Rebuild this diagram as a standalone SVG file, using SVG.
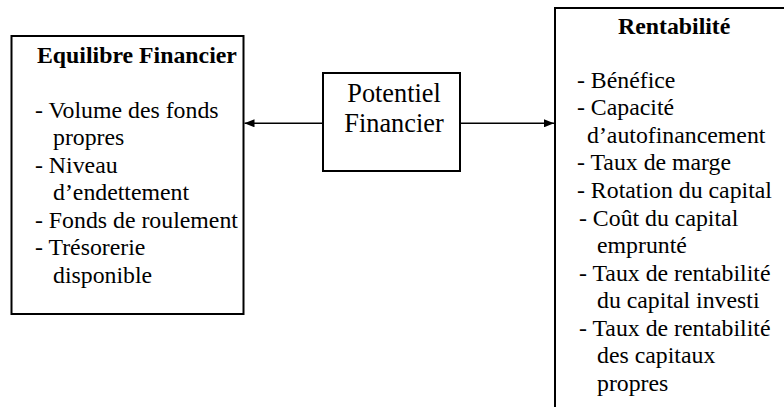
<svg xmlns="http://www.w3.org/2000/svg" width="784" height="407" viewBox="0 0 784 407">
<style>
.box{fill:#fff;stroke:#000;stroke-width:2}
.t{font-family:'Liberation Serif',serif;font-size:23.8px;fill:#000}
.h{font-weight:bold}
.c{font-family:'Liberation Serif',serif;font-size:26.3px;fill:#000;text-anchor:middle}
.con{stroke:#000;stroke-width:1.5;fill:none}
</style>
<defs>
<marker id="ah" viewBox="0 0 10 8" refX="10" refY="4" markerWidth="10" markerHeight="8" markerUnits="userSpaceOnUse" orient="auto">
<path d="M0,0 L10,4 L0,8 Z" fill="#000"/>
</marker>
</defs>
<rect width="784" height="407" fill="#fff"/>
<g id="equilibre">
<rect class="box" x="11.5" y="36" width="232" height="278"/>
<text class="t h" x="37" y="63.3">Equilibre Financier</text>
<text class="t" x="35" y="117.5">- Volume des fonds</text>
<text class="t" x="53" y="145">propres</text>
<text class="t" x="35" y="172.5">- Niveau</text>
<text class="t" x="53" y="200">d’endettement</text>
<text class="t" x="35" y="227.5">- Fonds de roulement</text>
<text class="t" x="35" y="255">- Trésorerie</text>
<text class="t" x="53" y="282.5">disponible</text>
</g>
<g id="potentiel">
<rect class="box" x="323" y="73" width="137" height="98"/>
<text class="c" x="394" y="101.7">Potentiel</text>
<text class="c" x="394" y="131.7">Financier</text>
</g>
<g id="rentabilite">
<rect class="box" x="555" y="8" width="240" height="410"/>
<text class="t h" x="618" y="34.3">Rentabilité</text>
<text class="t" x="577" y="87.7">- Bénéfice</text>
<text class="t" x="577" y="115.2">- Capacité</text>
<text class="t" x="587" y="142.7">d’autofinancement</text>
<text class="t" x="577" y="170.2">- Taux de marge</text>
<text class="t" x="577" y="197.7">- Rotation du capital</text>
<text class="t" x="579" y="225.7">- Coût du capital</text>
<text class="t" x="597" y="253.2">emprunté</text>
<text class="t" x="579" y="280.7">- Taux de rentabilité</text>
<text class="t" x="597" y="308.2">du capital investi</text>
<text class="t" x="579" y="335.7">- Taux de rentabilité</text>
<text class="t" x="597" y="363.2">des capitaux</text>
<text class="t" x="597" y="390.7">propres</text>
</g>
<g id="connectors">
<line class="con" x1="323" y1="123.3" x2="244.5" y2="123.3" marker-end="url(#ah)"/>
<line class="con" x1="460" y1="123.3" x2="554" y2="123.3" marker-end="url(#ah)"/>
</g>
</svg>
